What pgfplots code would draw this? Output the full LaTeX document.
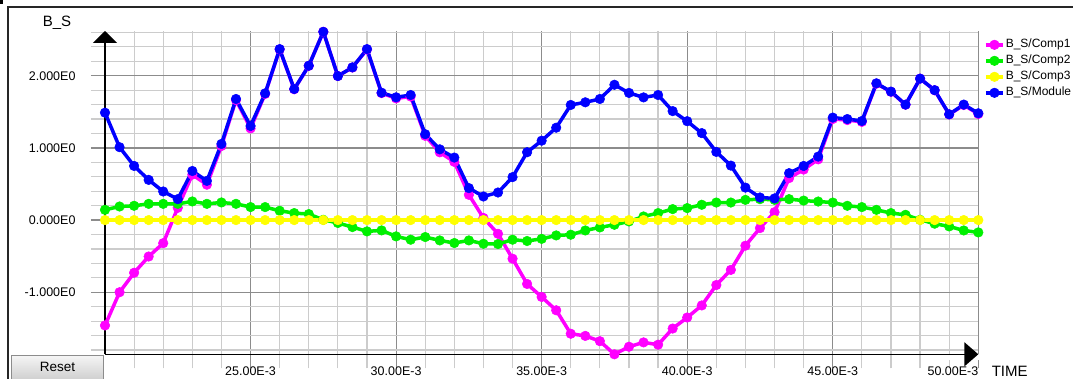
\documentclass[border=0pt]{standalone}
\usepackage{fontspec}
\setmainfont{Liberation Sans}
\usepackage{pgfplots}
\usepackage{pgfplotstable}
\pgfplotsset{compat=1.18}
\usetikzlibrary{arrows.meta}

\definecolor{cOne}{RGB}{255,0,255}
\definecolor{cTwo}{RGB}{0,240,0}
\definecolor{cThree}{RGB}{255,255,0}
\definecolor{cMod}{RGB}{0,0,255}

\pgfplotstableread{
x    c1     c2     c3  m
20.0 -1.46  0.142  0   1.488
20.5 -1.00  0.188  0   1.010
21.0 -0.73  0.198  0   0.750
21.5 -0.505 0.225  0   0.557
22.0 -0.32  0.225  0   0.396
22.5  0.17  0.225  0   0.290
23.0  0.63  0.258  0   0.680
23.5  0.49  0.225  0   0.543
24.0  1.026 0.244  0   1.055
24.5  1.663 0.225  0   1.678
25.0  1.27  0.180  0   1.304
25.5  1.747 0.180  0   1.756
26.0  2.365 0.129  0   2.369
26.5  1.813 0.097  0   1.816
27.0  2.137 0.083  0   2.139
27.5  2.609 0.004  0   2.609
28.0  1.996 -0.040 0   1.996
28.5  2.114 -0.097 0   2.116
29.0  2.364 -0.157 0   2.369
29.5  1.759 -0.143 0   1.765
30.0  1.686 -0.226 0   1.701
30.5  1.712 -0.272 0   1.733
31.0  1.167 -0.235 0   1.190
31.5  0.939 -0.282 0   0.980
32.0  0.806 -0.318 0   0.866
32.5  0.35  -0.282 0   0.443
33.0  0.03  -0.328 0   0.327
33.5 -0.19  -0.332 0   0.382
34.0 -0.535 -0.272 0   0.595
34.5 -0.885 -0.290 0   0.940
35.0 -1.065 -0.260 0   1.100
35.5 -1.25  -0.213 0   1.280
36.0 -1.575 -0.203 0   1.595
36.5 -1.605 -0.144 0   1.632
37.0 -1.678 -0.102 0   1.678
37.5 -1.86  -0.065 0   1.875
38.0 -1.755 -0.019 0   1.762
38.5 -1.695 0.050  0   1.700
39.0 -1.727 0.097  0   1.733
39.5 -1.503 0.152  0   1.510
40.0 -1.35  0.166  0   1.370
40.5 -1.183 0.212  0   1.205
41.0 -0.90  0.243  0   0.945
41.5 -0.69  0.243  0   0.755
42.0 -0.355 0.280  0   0.450
42.5 -0.111 0.290  0   0.313
43.0  0.11  0.280  0   0.300
43.5  0.582 0.290  0   0.650
44.0  0.70  0.270  0   0.750
44.5  0.842 0.257  0   0.880
45.0  1.40  0.243  0   1.420
45.5  1.386 0.198  0   1.400
46.0  1.361 0.180  0   1.373
46.5  1.89  0.142  0   1.895
47.0  1.777 0.097  0   1.780
47.5  1.598 0.073  0   1.600
48.0  1.96  0.004  0   1.960
48.5  1.799 -0.050 0   1.800
49.0  1.463 -0.088 0   1.466
49.5  1.594 -0.144 0   1.600
50.0  1.47  -0.171 0   1.480
}\data

\begin{document}
\begin{tikzpicture}
\path[use as bounding box] (0pt,0pt) rectangle (1073pt,378pt);
\fill[white] (0pt,0pt) rectangle (1073pt,378pt);
\draw[line width=1.5pt, black!85] (8pt,-2pt) -- (8pt,371pt) -- (1075pt,371pt);
\fill[black] (0pt,374pt) rectangle (3pt,378pt);
\node[draw=black!45, line width=0.8pt, top color=black!4, bottom color=black!20,
  minimum width=92pt, minimum height=26pt, inner sep=0pt, anchor=south west,
  font=\fontsize{13.5}{15}\selectfont] at (11pt,-4pt) {\raisebox{4pt}{Reset}};
\begin{axis}[
  at={(105pt,23.7pt)}, anchor=south west,
  scale only axis, width=873.3pt, height=323.3pt,
  xmin=20, xmax=50, ymin=-1.86, ymax=2.62,
  enlargelimits=false, clip=false,
  axis lines=left,
  x axis line style={line width=1.5pt, black, -{Triangle[length=14pt,width=24pt]}},
  y axis line style={line width=1.5pt, black, -{Triangle[length=12pt,width=24pt]}},
  xtick={25,30,35,40,45,50},
  xticklabels={25.00E-3,30.00E-3,35.00E-3,40.00E-3,45.00E-3,\makebox[0pt][r]{50.00E-3}},
  minor xtick={21,22,23,24,26,27,28,29,31,32,33,34,36,37,38,39,41,42,43,44,46,47,48,49},
  ytick={-1,0,1,2},
  yticklabels={-1.000E0,0.000E0,1.000E0,2.000E0},
  minor ytick={-1.8,-1.6,-1.4,-1.2,-0.8,-0.6,-0.4,-0.2,0.2,0.4,0.6,0.8,1.2,1.4,1.6,1.8,2.2,2.4,2.6},
  grid=both,
  major grid style={draw=black!45, line width=1.2pt},
  minor grid style={draw=black!20, line width=1.2pt},
  tick align=outside,
  major tick length=14pt, minor tick length=14pt,
  major tick style={draw=black!45, line width=1.2pt},
  minor tick style={draw=black!20, line width=1.2pt},
  every x tick/.append style={shorten >=6pt},
  tick label style={font=\fontsize{12.5}{14}\selectfont, text=black},
  xticklabel style={yshift=5pt},
  yticklabel style={xshift=-12pt},
  every axis y label/.style={at={(rel axis cs:-0.055,1.027)}, anchor=center},
  every axis x label/.style={at={(rel axis cs:1.0359,-0.0531)}, anchor=center},
  ylabel={B\_S}, xlabel={TIME},
  label style={font=\fontsize{15}{17}\selectfont},
  legend cell align=left,
  legend style={at={(rel axis cs:1.0065,0.978)}, anchor=north west, draw=none, fill=none,
    inner sep=0pt, row sep=3pt, font=\fontsize{12}{14}\selectfont,
    nodes={inner sep=1pt, text height=8.5pt, text depth=2.5pt}},
  /tikz/every even column/.style={column sep=0pt},
  every axis plot/.append style={line width=3.5pt, line join=round, mark=*, mark size=4.8pt, mark options={line width=0.5pt, solid}},
]
\addplot[color=cOne] table[x=x,y=c1]{\data};
\addplot[color=cTwo] table[x=x,y=c2]{\data};
\addplot[color=cThree] table[x=x,y=c3]{\data};
\addplot[color=cMod] table[x=x,y=m]{\data};
\legend{B\_S/Comp1,B\_S/Comp2,B\_S/Comp3,B\_S/Module}
\end{axis}
\end{tikzpicture}
\end{document}
